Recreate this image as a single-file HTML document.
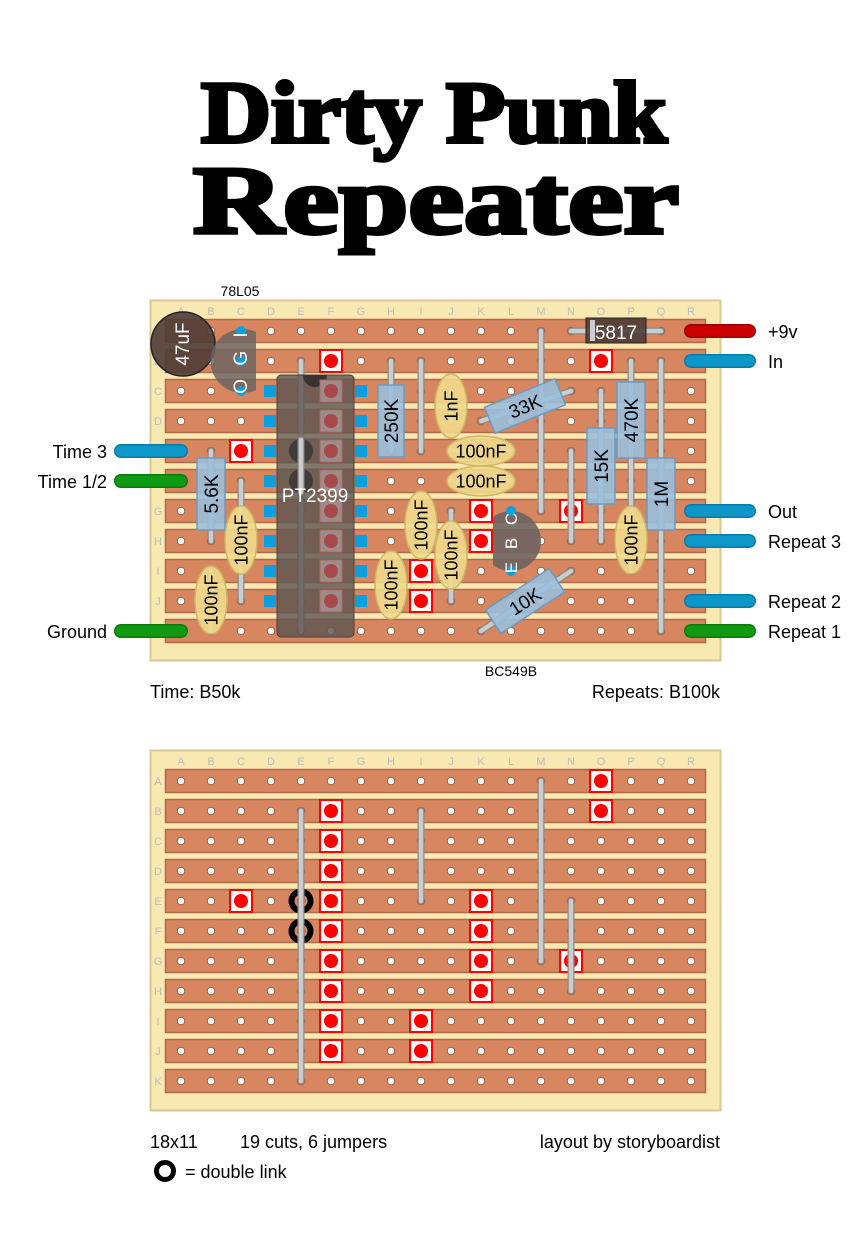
<!DOCTYPE html>
<html><head><meta charset="utf-8"><style>
html,body{margin:0;padding:0;background:#fff;}
svg{display:block;}
text{font-family:"Liberation Sans",sans-serif;}
</style></head><body>
<svg id="s" width="866" height="1258" xmlns="http://www.w3.org/2000/svg">
<text x="434" y="142" text-anchor="middle" font-family="Liberation Serif" font-weight="bold" font-size="88" textLength="466" lengthAdjust="spacingAndGlyphs" stroke="#000" stroke-width="4" style="font-family:'Liberation Serif',serif">Dirty Punk</text>
<text x="436" y="233" text-anchor="middle" font-family="Liberation Serif" font-weight="bold" font-size="96" textLength="486" lengthAdjust="spacingAndGlyphs" stroke="#000" stroke-width="4" style="font-family:'Liberation Serif',serif">Repeater</text>
<g id="g"></g>
</svg>
<script>
var g=document.getElementById('g');var out='';
function a(s){out+=s;}
var cols='ABCDEFGHIJKLMNOPQR';
function cx(i){return 181+30*i;}
function board(y0,rows,labelRows){
 a('<rect x="150.5" y="'+(y0+0.5)+'" width="570" height="'+(rows*30+30)+'" fill="#f8e9b3" stroke="#d9c78f" stroke-width="2"/>');
 for(var i=0;i<18;i++)a('<text x="'+cx(i)+'" y="'+(y0+15)+'" text-anchor="middle" font-size="11" fill="#bbb">'+cols[i]+'</text>');
 for(var j=0;j<rows;j++){var y=y0+31+30*j;
  a('<rect x="165.5" y="'+(y-11.5)+'" width="540" height="23" fill="#d8865f" stroke="#b06a4a" stroke-width="1.5"/>');
  if(labelRows[j])a('<text x="158" y="'+(y+4)+'" text-anchor="middle" font-size="11" fill="#bbb">'+'ABCDEFGHIJK'[j]+'</text>');
  for(var i=0;i<18;i++)a('<circle cx="'+cx(i)+'" cy="'+y+'" r="3.8" fill="#fff" stroke="#9a5c40" stroke-width="1"/>');
 }
}
function cut(c,r,y0){var x=cx(cols.indexOf(c)),y=y0+31+30*r;a('<rect x="'+(x-11)+'" y="'+(y-11)+'" width="22" height="22" fill="#fff" stroke="#f00" stroke-width="2"/><circle cx="'+x+'" cy="'+y+'" r="7" fill="#f00"/>');}
function wire(x1,y1,x2,y2){a('<line x1="'+x1+'" y1="'+y1+'" x2="'+x2+'" y2="'+y2+'" stroke="#888" stroke-width="7" stroke-linecap="round"/><line x1="'+x1+'" y1="'+y1+'" x2="'+x2+'" y2="'+y2+'" stroke="#ccc" stroke-width="4.5" stroke-linecap="round"/>');}
function res(x,y,w,h,ang,label){a('<g transform="translate('+x+','+y+') rotate('+ang+')"><rect x="'+(-w/2)+'" y="'+(-h/2)+'" width="'+w+'" height="'+h+'" fill="#9bbfdc" fill-opacity="0.9" stroke="#6b9bc3" stroke-width="1.5"/><text x="0" y="7" text-anchor="middle" font-size="19" fill="#000">'+label+'</text></g>');}
function cap(x,y,rx,ry,ang,label){a('<g transform="translate('+x+','+y+') rotate('+ang+')"><ellipse cx="0" cy="0" rx="'+rx+'" ry="'+ry+'" fill="#efd98c" fill-opacity="0.92" stroke="#cdb764" stroke-width="1.5"/><text x="0" y="6.5" text-anchor="middle" font-size="18" fill="#000">'+label+'</text></g>');}
function lead(x,y,w,col){a('<line x1="'+x+'" y1="'+y+'" x2="'+(x+w)+'" y2="'+y+'" stroke="'+col[1]+'" stroke-width="14" stroke-linecap="round"/><line x1="'+x+'" y1="'+y+'" x2="'+(x+w)+'" y2="'+y+'" stroke="'+col[0]+'" stroke-width="11" stroke-linecap="round"/>');}
var R=function(j){return 331+30*j;};
board(300,11,[1,1,1,1,0,0,1,1,1,1,0]);
cut('F',1,300);cut('O',1,300);cut('C',4,300);cut('K',6,300);cut('K',7,300);cut('N',6,300);cut('I',8,300);cut('I',9,300);
for(var j=2;j<10;j++){a('<rect x="264" y="'+(R(j)-6)+'" width="12" height="12" fill="#0aa0e0"/><rect x="355" y="'+(R(j)-6)+'" width="12" height="12" fill="#0aa0e0"/>');}
wire(301,361,301,631);wire(421,361,421,451);wire(541,331,541,511);wire(571,451,571,541);
wire(391,361,391,451);wire(601,391,601,541);wire(631,361,631,511);wire(661,361,661,631);
wire(211,451,211,541);wire(241,481,241,601);wire(211,571,211,631);wire(391,571,391,601);
wire(421,511,421,541);wire(451,511,451,601);wire(631,511,631,571);
wire(481,421,571,391);wire(481,631,571,571);wire(571,331,661,331);
wire(451,391,451,421);wire(451,451,511,451);wire(451,481,511,481);
a('<rect x="277" y="375" width="77" height="262" rx="4" fill="#5e5552" fill-opacity="0.82" stroke="#4a4240" stroke-width="1"/>');
a('<path d="M303 375 A12 12 0 0 0 327 375 Z" fill="#3a3230"/>');
for(var j=2;j<10;j++){a('<rect x="320" y="'+(R(j)-11)+'" width="22" height="22" fill="#9a8e8c" stroke="#c06060" stroke-width="1"/><circle cx="331" cy="'+R(j)+'" r="7" fill="#a84848"/>');}
a('<line x1="278" y1="436" x2="353" y2="436" stroke="#8a8070" stroke-width="4" opacity="0.6"/><line x1="278" y1="466" x2="353" y2="466" stroke="#8a8070" stroke-width="4" opacity="0.6"/>');
a('<circle cx="301" cy="451" r="12" fill="#333" opacity="0.8"/><circle cx="301" cy="481" r="12" fill="#333" opacity="0.8"/>');
wire(301,440,301,492);
a('<text x="315" y="502" text-anchor="middle" font-size="19" fill="#fff">PT2399</text>');
res(391,421,72,26,-90,'250K');
res(525,406,76,28,-22,'33K');
res(601,466,76,28,-90,'15K');
res(631,420,76,28,-90,'470K');
res(661,494,72,28,-90,'1M');
res(211,494,72,28,-90,'5.6K');
res(525,601,76,28,-33,'10K');
cap(451,406,32,16,-90,'1nF');
cap(481,451,34,15,0,'100nF');cap(481,481,34,15,0,'100nF');
cap(241,540,34,16,-90,'100nF');cap(211,600,34,16,-90,'100nF');cap(391,585,34,16,-90,'100nF');
cap(421,525,34,16,-90,'100nF');cap(451,555,34,16,-90,'100nF');cap(631,540,34,16,-90,'100nF');
a('<rect x="586" y="318" width="60" height="25" fill="#4a3a36" fill-opacity="0.88" stroke="#222" stroke-width="1"/><rect x="590" y="320" width="5" height="21" fill="#ccc"/><text x="616" y="339" text-anchor="middle" font-size="19" fill="#fff">5817</text>');
a('<circle cx="183" cy="344" r="32" fill="#4e3c36" fill-opacity="0.9" stroke="#222" stroke-width="1.5"/><text transform="translate(189,344) rotate(-90)" text-anchor="middle" font-size="19" fill="#fff">47uF</text>');
a('<path d="M256 332 A32 32 0 1 0 256 390 Z" fill="#6e6461" fill-opacity="0.85"/>');
a('<circle cx="241" cy="331" r="5" fill="#0aa0e0"/><circle cx="241" cy="361" r="5" fill="#0aa0e0"/><circle cx="241" cy="391" r="5" fill="#0aa0e0"/>');
a('<text transform="translate(247,361) rotate(-90)" text-anchor="middle" font-size="19" fill="#fff" letter-spacing="4">O G I</text>');
a('<path d="M493 517 A30 30 0 1 1 493 565 Z" fill="#6e6461" fill-opacity="0.9"/>');
a('<circle cx="511" cy="511" r="5" fill="#0aa0e0"/><circle cx="511" cy="571" r="5" fill="#0aa0e0"/>');
a('<text transform="translate(517,541) rotate(-90)" text-anchor="middle" font-size="17" fill="#fff" letter-spacing="4">E B C</text>');
var blue=['#0d97c9','#0a7aa8'],green=['#0f9a12','#0a7a0c'],red=['#cc0000','#990000'];
lead(121,451,60,blue);lead(121,481,60,green);lead(121,631,60,green);
lead(691,331,58,red);lead(691,361,58,blue);lead(691,511,58,blue);lead(691,541,58,blue);lead(691,601,58,blue);lead(691,631,58,green);
function t(x,y,s,anc,fs){a('<text x="'+x+'" y="'+y+'" text-anchor="'+(anc||'start')+'" font-size="'+(fs||18)+'" fill="#000">'+s+'</text>');}
t(107,458,'Time 3','end');t(107,488,'Time 1/2','end');t(107,638,'Ground','end');
t(768,338,'+9v');t(768,368,'In');t(768,518,'Out');t(768,548,'Repeat 3');t(768,608,'Repeat 2');t(768,638,'Repeat 1');
t(240,296,'78L05','middle',14);t(511,676,'BC549B','middle',14);
t(150,698,'Time: B50k');t(720,698,'Repeats: B100k','end');
board(750,11,[1,1,1,1,1,1,1,1,1,1,1]);
cut('O',0,750);cut('O',1,750);for(var j=1;j<10;j++)cut('F',j,750);cut('C',4,750);
cut('K',4,750);cut('K',5,750);cut('K',6,750);cut('K',7,750);cut('N',6,750);cut('I',8,750);cut('I',9,750);
a('<circle cx="301" cy="901" r="9.5" fill="none" stroke="#000" stroke-width="6"/><circle cx="301" cy="931" r="9.5" fill="none" stroke="#000" stroke-width="6"/>');
wire(301,811,301,1081);wire(421,811,421,901);wire(541,781,541,961);wire(571,901,571,991);
t(150,1148,'18x11');t(240,1148,'19 cuts, 6 jumpers');t(720,1148,'layout by storyboardist','end');
a('<circle cx="165" cy="1171" r="8.5" fill="#fff" stroke="#000" stroke-width="5"/>');t(185,1178,'= double link');
g.innerHTML=out;
</script>
</body></html>
